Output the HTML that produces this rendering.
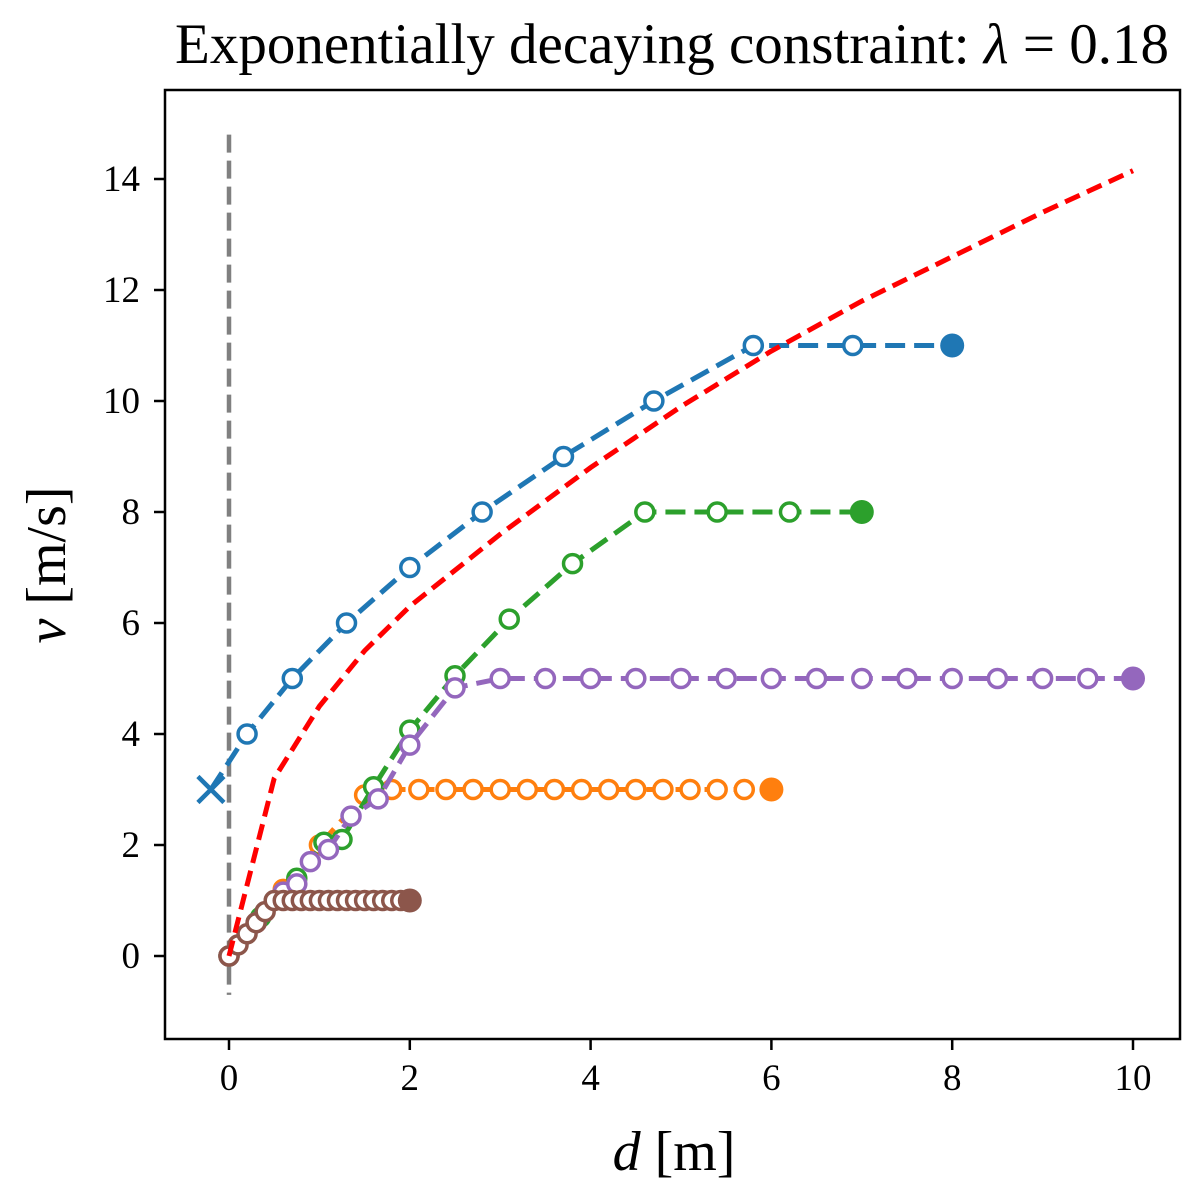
<!DOCTYPE html>
<html><head><meta charset="utf-8"><style>
html,body{margin:0;padding:0;background:#fff;}
svg{display:block;font-family:"Liberation Serif","DejaVu Serif",serif;}
</style></head><body>
<svg id="chart" width="1200" height="1200" viewBox="0 0 1200 1200">
<rect width="1200" height="1200" fill="#fff"/>
<g id="plot"></g>
<rect x="165" y="90" width="1015" height="949" fill="none" stroke="#000" stroke-width="2.5"/>
<g id="axes"></g>
<text x="672" y="63" font-size="57" text-anchor="middle">Exponentially decaying constraint: <tspan font-style="italic">λ</tspan> = 0.18</text>
<text x="674" y="1170" font-size="56" text-anchor="middle"><tspan font-style="italic">d</tspan> [m]</text>
<text transform="translate(65,565) rotate(-90)" font-size="56" text-anchor="middle"><tspan font-style="italic">v</tspan> [m/s]</text>
</svg>
<script>
const xTicks=[0,2,4,6,8,10];
const yTicks=[0,2,4,6,8,10,12,14];
const blueD=[-0.2,0.2,0.7,1.3,2.0,2.8,3.7,4.7,5.8,6.9,8];
const blueV=[3,4,5,6,7,8,9,10,11,11,11];
const greenD=[0,0.35,0.75,1.05,1.25,1.6,2.0,2.5,3.1,3.8,4.6,5.4,6.2,7];
const greenV=[0,0.7,1.4,2.05,2.1,3.05,4.07,5.05,6.07,7.07,8,8,8,8];
const orangeD=[0,0.3,0.6,1.0,1.5,1.8,2.1,2.4,2.7,3.0,3.3,3.6,3.9,4.2,4.5,4.8,5.1,5.4,5.7,6];
const orangeV=[0,0.6,1.2,2.0,2.9,3,3,3,3,3,3,3,3,3,3,3,3,3,3,3];
const purpleD=[0,0.3,0.6,0.75,0.9,1.1,1.35,1.65,2.0,2.5,3,3.5,4,4.5,5,5.5,6,6.5,7,7.5,8,8.5,9,9.5,10];
const purpleV=[0,0.6,1.15,1.3,1.7,1.92,2.52,2.83,3.8,4.83,5,5,5,5,5,5,5,5,5,5,5,5,5,5,5];
const brownD=[0,0.1,0.2,0.3,0.4,0.5,0.6,0.7,0.8,0.9,1.0,1.1,1.2,1.3,1.4,1.5,1.6,1.7,1.8,1.9,2];
const brownV=[0,0.2,0.4,0.6,0.8,1,1,1,1,1,1,1,1,1,1,1,1,1,1,1,1];
const redD=[0,0.5,1,1.5,2,3,4,5,6,7,8,9,10];
const redV=[0,3.2,4.5,5.5,6.3,7.6,8.8,9.9,10.9,11.8,12.6,13.4,14.15];

const X=d=>229+d*90.4;
const Y=v=>956-v*55.5;
const NS="http://www.w3.org/2000/svg";
const plot=document.getElementById('plot');
const axes=document.getElementById('axes');
function mk(tag,attrs,parent){const e=document.createElementNS(NS,tag);for(const k in attrs)e.setAttribute(k,attrs[k]);parent.appendChild(e);return e;}

let g=mk('line',{x1:X(0),x2:X(0),y1:Y(14.8),y2:Y(-0.7),stroke:'#808080','stroke-width':4.5,'stroke-dasharray':'18,8'},plot);



function series(name,color,D,V,dash){
  const grp=mk('g',{},plot);
  
  
  const pts=D.map((d,i)=>X(d)+','+Y(V[i])).join(' ');
  const l=mk('polyline',{points:pts,fill:'none',stroke:color,'stroke-width':5,'stroke-dasharray':dash},grp);
  
  
  for(let i=0;i<D.length-1;i++){
    if(name==='blue'&&i===0)continue;
    const c=mk('circle',{cx:X(D[i]),cy:Y(V[i]),r:9,fill:'#fff',stroke:color,'stroke-width':3.5},grp);
    
    
  }
  const n=D.length-1;
  const f=mk('circle',{cx:X(D[n]),cy:Y(V[n]),r:12,fill:color},grp);
  
  
}
series('orange','#ff7f0e',orangeD,orangeV,'20,9');
series('green','#2ca02c',greenD,greenV,'20,9');
series('purple','#9467bd',purpleD,purpleV,'20,9');
series('brown','#8c564b',brownD,brownV,'20,9');
series('blue','#1f77b4',blueD,blueV,'20,9');
const cx=X(blueD[0]),cy=Y(blueV[0]);
const cr=mk('path',{d:`M${cx-13},${cy-13}L${cx+13},${cy+13}M${cx-13},${cy+13}L${cx+13},${cy-13}`,stroke:'#1f77b4','stroke-width':4.5},plot);


const rl=mk('polyline',{points:redD.map((d,i)=>X(d)+','+Y(redV[i])).join(' '),fill:'none',stroke:'#ff0000','stroke-width':5,'stroke-dasharray':'16,8'},plot);



xTicks.forEach(t=>{
  const l=mk('line',{x1:X(t),x2:X(t),y1:1039,y2:1050,stroke:'#000','stroke-width':2.5},axes);
  
  
  const tx=mk('text',{x:X(t),y:1090,'font-size':37,'text-anchor':'middle'},axes);
  tx.textContent=t;
  
  
});
yTicks.forEach(t=>{
  const l=mk('line',{x1:154,x2:165,y1:Y(t),y2:Y(t),stroke:'#000','stroke-width':2.5},axes);
  
  
  const tx=mk('text',{x:140,y:Y(t)+12,'font-size':37,'text-anchor':'end'},axes);
  tx.textContent=t;
  
  
});
</script>
</body></html>
